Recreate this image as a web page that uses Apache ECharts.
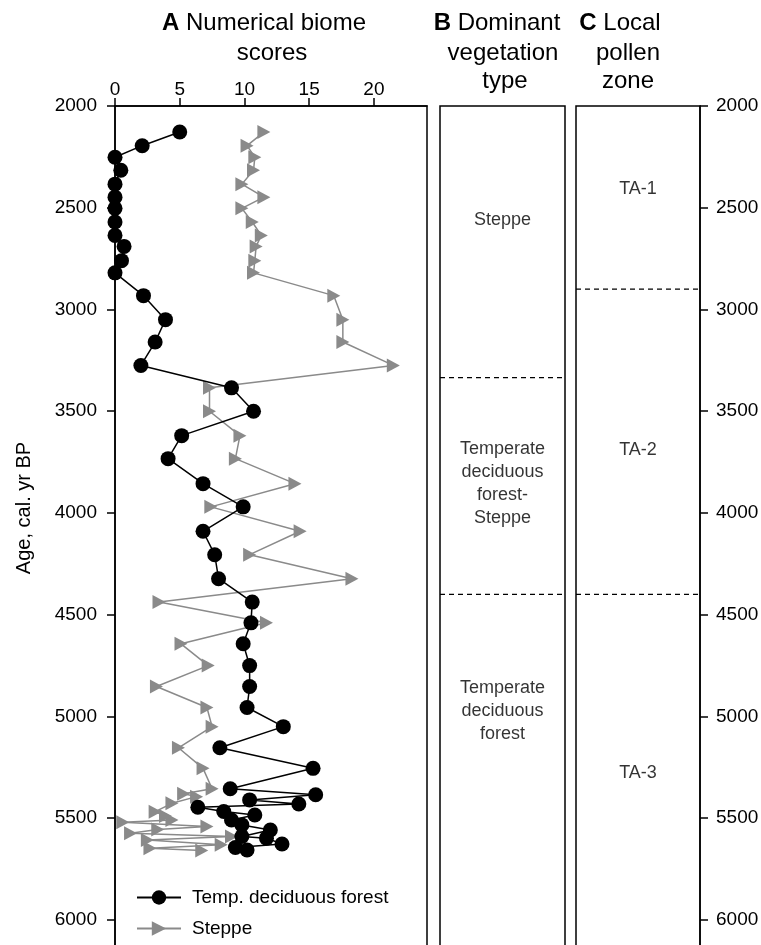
<!DOCTYPE html>
<html><head><meta charset="utf-8">
<script src="https://cdn.jsdelivr.net/npm/echarts@6/dist/echarts.min.js"></script>
<style>html,body{margin:0;padding:0;background:#fff}#c{width:761px;height:945px}</style>
</head><body><div id="c"></div>
<script>
// ---- data ----
const forestAge = [2128,2195,2252,2316,2384,2448,2503,2570,2636,2690,2760,2820,2932,3050,3160,3275,3385,3500,3620,3733,3856,3970,4090,4205,4323,4438,4540,4643,4750,4853,4956,5050,5154,5255,5355,5385,5410,5430,5446,5467,5484,5509,5533,5558,5590,5598,5627,5644,5656];
const forestScore = [5.0,2.1,0,0.45,0,0,0,0,0,0.7,0.5,0,2.2,3.9,3.1,2.0,9.0,10.7,5.15,4.1,6.8,9.9,6.8,7.7,8.0,10.6,10.5,9.9,10.4,10.4,10.2,13.0,8.1,15.3,8.9,15.5,10.4,14.2,6.4,8.4,10.8,9.0,9.8,12.0,9.8,11.7,12.9,9.3,10.2];
const steppeAge = [2128,2195,2252,2316,2384,2448,2503,2570,2636,2690,2760,2820,2932,3050,3160,3275,3385,3500,3620,3733,3856,3970,4090,4205,4323,4438,4540,4643,4750,4853,4956,5050,5154,5255,5355,5380,5394,5427,5468,5489,5509,5520,5541,5555,5574,5590,5607,5631,5648,5659];
const steppeScore = [11.5,10.2,10.8,10.7,9.8,11.5,9.8,10.6,11.3,10.9,10.8,10.7,16.9,17.6,17.6,21.5,7.3,7.3,9.65,9.3,13.9,7.4,14.3,10.4,18.3,3.4,11.7,5.1,7.2,3.2,7.1,7.5,4.9,6.8,7.5,5.3,6.3,4.4,3.1,3.9,4.4,0.6,7.1,3.3,1.2,9.0,2.5,8.2,2.7,6.7];
const scoreTicks = [0,5,10,15,20];
const ageTicks = [2000,2500,3000,3500,4000,4500,5000,5500,6000];
const vegBoundaries = [3335,4400];
const zoneBoundaries = [2900,4400];
const vegLabelAge = [2560,3853,4973];
const vegLabelText = ['Steppe','Temperate\ndeciduous\nforest-\nSteppe','Temperate\ndeciduous\nforest'];
const zoneLabelAge = [2408,3690,5278];
const zoneLabelText = ['TA-1','TA-2','TA-3'];
const seriesNames = ['Temp. deciduous forest','Steppe'];

// ---- chart ----
const FONT = '"Liberation Sans", Arial, Helvetica, sans-serif';
const AGE_MIN = 2000, AGE_MAX = 6133, AGE_STEP = 500;
const chart = echarts.init(document.getElementById('c'), null, {renderer:'canvas'});
const axisLineStyle = {color:'#000', width:1.5};
const gridCommon = {top:106, bottom:-2, show:true, borderColor:'#000', borderWidth:1.5, backgroundColor:'transparent', containLabel:false, outerBoundsMode:'none'};
function hiddenX(idx){return {type:'value', gridIndex:idx, min:0, max:1, show:false};}
function ageAxis(idx, show, pos){
  return {type:'value', gridIndex:idx, inverse:true, min:AGE_MIN, max:AGE_MAX, interval:AGE_STEP, show:show, position:pos,
    axisLine:{show:true, onZero:false, lineStyle:axisLineStyle},
    axisTick:{show:true, inside:false, length:8, lineStyle:axisLineStyle},
    axisLabel:{show:true, showMaxLabel:false, formatter:v=>(ageTicks.indexOf(v)>=0?String(v):''), margin:pos==='left'?18:16, color:'#000', fontSize:19, fontFamily:FONT},
    splitLine:{show:false}};
}
function dashSeries(xi, yi, ages, xEnd){
  return ages.map(a => ({type:'line', xAxisIndex:xi, yAxisIndex:yi, data:[[0,a],[xEnd,a]], symbol:'none', clip:false, silent:true,
    lineStyle:{color:'#000', width:1.2, type:[5,4]}, animation:false, z:1}));
}
function labelSeries(xi, yi, ages, texts){
  return {type:'scatter', xAxisIndex:xi, yAxisIndex:yi, symbolSize:0, silent:true, animation:false,
    data: ages.map((a,i)=>({value:[0.5,a], name:texts[i]})),
    label:{show:true, position:'inside', formatter:'{b}', color:'#000', fontSize:18, lineHeight:23, fontFamily:FONT, align:'center', verticalAlign:'middle'}};
}
const titleFont = {fontSize:24, fontFamily:FONT, fill:'#000'};
function tline(x, y, text){
  return {type:'text', x:x, y:y, style:Object.assign({text:text, textAlign:'center', textVerticalAlign:'middle',
    rich:{b:{fontWeight:'bold', fontSize:24, fontFamily:FONT}, n:{fontSize:24, fontFamily:FONT}}}, titleFont)};
}
const option = {
  backgroundColor:'#fff',
  animation:false,
  grid:[
    Object.assign({left:115, width:312}, gridCommon),
    Object.assign({left:440, width:125}, gridCommon),
    Object.assign({left:576, width:124}, gridCommon)
  ],
  xAxis:[
    {type:'value', gridIndex:0, position:'top', min:0, max:24.1,
      axisLine:{show:true, onZero:false, lineStyle:axisLineStyle},
      axisTick:{show:true, length:8, lineStyle:axisLineStyle, customValues:scoreTicks},
      axisLabel:{customValues:scoreTicks, margin:7, color:'#000', fontSize:19, fontFamily:FONT},
      splitLine:{show:false}},
    hiddenX(1), hiddenX(2)
  ],
  yAxis:[
    ageAxis(0, true, 'left'),
    ageAxis(1, false, 'left'),
    ageAxis(2, true, 'right')
  ],
  legend:{orient:'vertical', left:136, top:888, padding:0, itemWidth:44, itemHeight:18, itemGap:12,
    data:seriesNames, textStyle:{color:'#000', fontSize:19, fontFamily:FONT, padding:[0,0,0,6]}},
  graphic:[
    tline(264, 23, '{b|A} {n|Numerical biome}'),
    tline(272, 53, 'scores'),
    tline(497, 23, '{b|B} {n|Dominant}'),
    tline(503, 53, 'vegetation'),
    tline(505, 81, 'type'),
    tline(620, 23, '{b|C} {n|Local}'),
    tline(628, 53, 'pollen'),
    tline(628, 81, 'zone'),
    {type:'text', x:24, y:508, rotation:Math.PI/2,
      style:{text:'Age, cal. yr BP', fontSize:20, fontFamily:FONT, fill:'#000', textAlign:'center', textVerticalAlign:'middle'}}
  ],
  series:[
    {name:seriesNames[1], type:'line', xAxisIndex:0, yAxisIndex:0, clip:false, z:3,
      data: steppeAge.map((a,i)=>[steppeScore[i], a]),
      symbol:'triangle', symbolSize:[14,13], symbolRotate:-90,
      itemStyle:{color:'#8a8a8a'}, lineStyle:{color:'#8a8a8a', width:1.5}},
    {name:seriesNames[0], type:'line', xAxisIndex:0, yAxisIndex:0, clip:false, z:4,
      data: forestAge.map((a,i)=>[forestScore[i], a]),
      symbol:'circle', symbolSize:15,
      itemStyle:{color:'#000'}, lineStyle:{color:'#000', width:1.5}},
    ...dashSeries(1,1,vegBoundaries,1),
    ...dashSeries(2,2,zoneBoundaries,1.05),
    labelSeries(1,1,vegLabelAge,vegLabelText),
    labelSeries(2,2,zoneLabelAge,zoneLabelText)
  ]
};
chart.setOption(option);
</script>
</body></html>
